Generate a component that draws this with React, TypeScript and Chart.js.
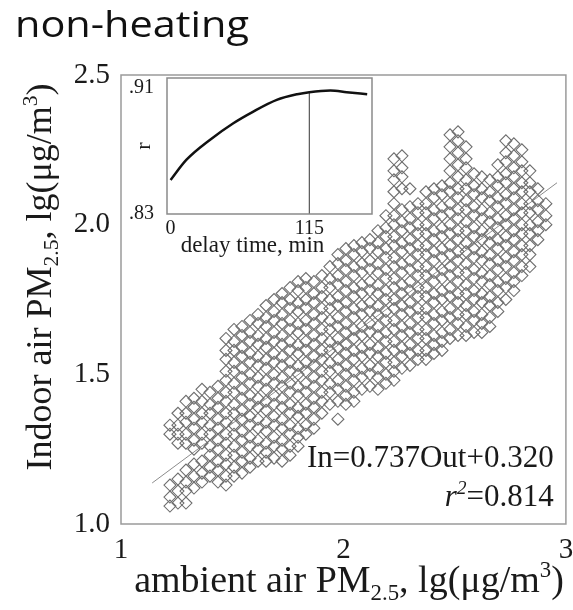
import React, { useEffect, useRef } from "react";
import { Chart, registerables } from "chart.js";

Chart.register(...registerables);

const SERIF = '"Liberation Serif", "Times New Roman", serif';

const titleText = "non-heating";
const xAxisTicks = [1, 2, 3];
const yAxisTicks = [1.0, 1.5, 2.0, 2.5];
const fitOut = [1.14, 2.96];
const fitIn = [1.137, 2.14];
const equationText = "In=0.737Out+0.320";
const r2Value = "=0.814";

// ambient (outdoor) lg values, one per column of the scatter cloud
const outdoorCols = [
  1.22, 1.256, 1.292, 1.328, 1.364, 1.4, 1.436, 1.472, 1.508, 1.544, 1.58, 1.616,
  1.652, 1.688, 1.724, 1.76, 1.796, 1.831, 1.867, 1.903, 1.939, 1.975, 2.011, 2.047,
  2.083, 2.119, 2.155, 2.191, 2.227, 2.263, 2.299, 2.335, 2.371, 2.407, 2.443, 2.479,
  2.515, 2.551, 2.587, 2.622, 2.658, 2.694, 2.73, 2.766, 2.802, 2.838, 2.874, 2.91,
];
// indoor lg values read for each column
const indoorCols = [
  [1.33, 1.3, 1.13, 1.09, 1.06],
  [1.37, 1.33, 1.3, 1.27, 1.15, 1.11, 1.07],
  [1.41, 1.37, 1.34, 1.3, 1.27, 1.18, 1.14, 1.11, 1.07],
  [1.42, 1.39, 1.35, 1.32, 1.28, 1.25, 1.2, 1.16, 1.12],
  [1.45, 1.41, 1.37, 1.34, 1.3, 1.27, 1.21, 1.17, 1.14],
  [1.44, 1.4, 1.37, 1.33, 1.3, 1.26, 1.23, 1.19, 1.16],
  [1.46, 1.42, 1.39, 1.35, 1.32, 1.28, 1.25, 1.21, 1.18, 1.14],
  [1.62, 1.58, 1.55, 1.51, 1.48, 1.44, 1.41, 1.37, 1.34, 1.3, 1.27, 1.23, 1.2, 1.16, 1.13],
  [1.65, 1.61, 1.58, 1.54, 1.51, 1.47, 1.44, 1.4, 1.37, 1.33, 1.3, 1.26, 1.23, 1.19, 1.16],
  [1.66, 1.63, 1.59, 1.56, 1.52, 1.49, 1.45, 1.42, 1.38, 1.35, 1.31, 1.28, 1.24, 1.21, 1.17],
  [1.68, 1.64, 1.61, 1.57, 1.54, 1.5, 1.47, 1.43, 1.4, 1.36, 1.33, 1.29, 1.26, 1.22, 1.19],
  [1.7, 1.67, 1.63, 1.6, 1.56, 1.53, 1.49, 1.46, 1.42, 1.39, 1.35, 1.32, 1.28, 1.25, 1.21],
  [1.73, 1.69, 1.66, 1.62, 1.59, 1.55, 1.52, 1.48, 1.45, 1.41, 1.38, 1.34, 1.31, 1.27, 1.24, 1.21],
  [1.75, 1.71, 1.68, 1.64, 1.61, 1.57, 1.54, 1.5, 1.47, 1.43, 1.4, 1.36, 1.33, 1.29, 1.26, 1.22],
  [1.77, 1.74, 1.7, 1.67, 1.63, 1.6, 1.56, 1.53, 1.49, 1.46, 1.42, 1.39, 1.35, 1.32, 1.28, 1.25, 1.21],
  [1.79, 1.75, 1.72, 1.68, 1.65, 1.61, 1.58, 1.54, 1.51, 1.47, 1.44, 1.4, 1.37, 1.33, 1.3, 1.26, 1.23],
  [1.81, 1.78, 1.74, 1.71, 1.67, 1.64, 1.6, 1.57, 1.53, 1.5, 1.46, 1.43, 1.39, 1.36, 1.32, 1.29, 1.26],
  [1.82, 1.79, 1.75, 1.72, 1.68, 1.65, 1.61, 1.58, 1.54, 1.51, 1.47, 1.44, 1.4, 1.37, 1.33, 1.3],
  [1.81, 1.77, 1.74, 1.7, 1.67, 1.63, 1.6, 1.56, 1.53, 1.49, 1.46, 1.42, 1.39, 1.35, 1.32],
  [1.83, 1.79, 1.76, 1.72, 1.69, 1.65, 1.62, 1.58, 1.55, 1.51, 1.48, 1.44, 1.41, 1.37],
  [1.86, 1.82, 1.79, 1.75, 1.72, 1.68, 1.65, 1.61, 1.58, 1.54, 1.51, 1.47, 1.44, 1.4],
  [1.9, 1.87, 1.83, 1.8, 1.76, 1.73, 1.69, 1.66, 1.62, 1.59, 1.55, 1.52, 1.48, 1.45, 1.41, 1.35],
  [1.92, 1.88, 1.85, 1.81, 1.78, 1.74, 1.71, 1.67, 1.64, 1.6, 1.57, 1.53, 1.5, 1.46, 1.43, 1.4],
  [1.93, 1.9, 1.86, 1.83, 1.79, 1.76, 1.72, 1.69, 1.65, 1.62, 1.58, 1.55, 1.51, 1.48, 1.44, 1.41],
  [1.94, 1.91, 1.87, 1.84, 1.8, 1.77, 1.73, 1.7, 1.66, 1.63, 1.59, 1.56, 1.52, 1.49, 1.45],
  [1.95, 1.92, 1.88, 1.85, 1.81, 1.78, 1.74, 1.71, 1.67, 1.64, 1.6, 1.57, 1.53, 1.5, 1.46],
  [1.98, 1.94, 1.91, 1.87, 1.84, 1.8, 1.77, 1.73, 1.7, 1.66, 1.63, 1.59, 1.56, 1.52, 1.49, 1.45],
  [2.03, 1.99, 1.96, 1.92, 1.89, 1.85, 1.82, 1.78, 1.75, 1.71, 1.68, 1.64, 1.61, 1.57, 1.54, 1.5, 1.47],
  [2.22, 2.18, 2.15, 2.11, 2.07, 2.03, 2.0, 1.96, 1.93, 1.89, 1.86, 1.82, 1.79, 1.75, 1.72, 1.68, 1.65, 1.61, 1.58, 1.54, 1.51, 1.48],
  [2.23, 2.19, 2.16, 2.12, 2.05, 2.01, 1.98, 1.94, 1.91, 1.87, 1.84, 1.8, 1.77, 1.73, 1.7, 1.66, 1.63, 1.59, 1.56, 1.52],
  [2.12, 2.06, 2.02, 1.99, 1.95, 1.92, 1.88, 1.85, 1.81, 1.78, 1.74, 1.71, 1.67, 1.64, 1.6, 1.57, 1.53],
  [2.07, 2.04, 2.0, 1.97, 1.93, 1.9, 1.86, 1.83, 1.79, 1.76, 1.72, 1.69, 1.65, 1.62, 1.58, 1.55],
  [2.11, 2.07, 2.04, 2.0, 1.97, 1.93, 1.9, 1.86, 1.83, 1.79, 1.76, 1.72, 1.69, 1.65, 1.62, 1.58, 1.55],
  [2.12, 2.09, 2.05, 2.02, 1.98, 1.95, 1.91, 1.88, 1.84, 1.81, 1.77, 1.74, 1.7, 1.67, 1.63, 1.6, 1.57],
  [2.13, 2.1, 2.06, 2.03, 1.99, 1.96, 1.92, 1.89, 1.85, 1.82, 1.78, 1.75, 1.71, 1.68, 1.64, 1.61, 1.58],
  [2.3, 2.26, 2.22, 2.18, 2.14, 2.11, 2.07, 2.04, 2.0, 1.97, 1.93, 1.9, 1.86, 1.83, 1.79, 1.76, 1.72, 1.69, 1.65, 1.62],
  [2.31, 2.28, 2.24, 2.2, 2.16, 2.12, 2.09, 2.05, 2.02, 1.98, 1.95, 1.91, 1.88, 1.84, 1.81, 1.77, 1.74, 1.7, 1.67, 1.63],
  [2.26, 2.22, 2.19, 2.15, 2.12, 2.08, 2.05, 2.01, 1.98, 1.94, 1.91, 1.87, 1.84, 1.8, 1.77, 1.73, 1.7, 1.66, 1.63],
  [2.17, 2.13, 2.1, 2.06, 2.03, 1.99, 1.96, 1.92, 1.89, 1.85, 1.82, 1.78, 1.75, 1.71, 1.68, 1.64],
  [2.16, 2.12, 2.09, 2.05, 2.02, 1.98, 1.95, 1.91, 1.88, 1.84, 1.81, 1.77, 1.74, 1.7, 1.67, 1.64],
  [2.15, 2.11, 2.08, 2.04, 2.01, 1.97, 1.94, 1.9, 1.87, 1.83, 1.8, 1.76, 1.73, 1.69, 1.66],
  [2.2, 2.16, 2.13, 2.09, 2.06, 2.02, 1.99, 1.95, 1.92, 1.88, 1.85, 1.81, 1.78, 1.74, 1.71],
  [2.28, 2.24, 2.21, 2.17, 2.14, 2.1, 2.07, 2.03, 2.0, 1.96, 1.93, 1.89, 1.86, 1.82, 1.79, 1.75],
  [2.27, 2.23, 2.19, 2.16, 2.12, 2.09, 2.05, 2.02, 1.98, 1.95, 1.91, 1.88, 1.84, 1.81, 1.78],
  [2.25, 2.21, 2.18, 2.14, 2.11, 2.07, 2.04, 2.0, 1.97, 1.93, 1.9, 1.86, 1.83],
  [2.18, 2.14, 2.11, 2.07, 2.04, 2.0, 1.97, 1.93, 1.9, 1.86],
  [2.12, 2.08, 2.05, 2.01, 1.98, 1.95],
  [2.07, 2.03, 2.0],
];

// inset: correlation r vs delay time
const delayTime = [0, 13, 32.5, 52, 68.6, 88, 105, 115, 132.5, 146, 163];
const corrR = [0.8516, 0.8643, 0.877, 0.8876, 0.895, 0.9024, 0.906, 0.9073, 0.9083, 0.9073, 0.906];
const bestDelay = 115;
const insetXTicks = [0, 115];
const insetYTicks = [0.83, 0.91];
const insetXTitle = "delay time, min";
const insetYTitle = "r";

type Seg = { t: string; s: number; dy?: number; it?: boolean };

function segFont(g: Seg) {
  return `${g.it ? "italic " : ""}${g.s}px ${SERIF}`;
}
function richWidth(ctx: CanvasRenderingContext2D, segs: Seg[]) {
  let w = 0;
  for (const g of segs) {
    ctx.font = segFont(g);
    w += ctx.measureText(g.t).width;
  }
  return w;
}
function drawRich(ctx: CanvasRenderingContext2D, segs: Seg[], x: number, y: number, align: "left" | "center" | "right") {
  const w = richWidth(ctx, segs);
  let cx = align === "center" ? x - w / 2 : align === "right" ? x - w : x;
  ctx.textAlign = "left";
  ctx.textBaseline = "alphabetic";
  for (const g of segs) {
    ctx.font = segFont(g);
    ctx.fillText(g.t, cx, y + (g.dy || 0));
    cx += ctx.measureText(g.t).width;
  }
}
function pmTitle(lead: string, F: number): Seg[] {
  return [
    { t: lead + " PM", s: F },
    { t: "2.5", s: F * 0.6, dy: F * 0.2 },
    { t: ", lg(\u03bcg/m", s: F },
    { t: "3", s: F * 0.6, dy: -F * 0.4 },
    { t: ")", s: F },
  ];
}

const noPad = (s: any) => {
  s.paddingTop = 0;
  s.paddingBottom = 0;
  s.paddingLeft = 0;
  s.paddingRight = 0;
};

const mainDecor = {
  id: "mainDecor",
  afterDraw(chart: any) {
    const ctx: CanvasRenderingContext2D = chart.ctx;
    const { left, top, right, bottom } = chart.chartArea;
    ctx.save();
    ctx.strokeStyle = "#9a9a9a";
    ctx.lineWidth = 1.5;
    ctx.strokeRect(left, top, right - left, bottom - top);

    ctx.fillStyle = "#111";
    // page title
    ctx.font = '36px "Open Sans", sans-serif';
    const tw = ctx.measureText(titleText).width;
    ctx.save();
    ctx.translate(15, 37);
    ctx.scale(234 / tw, 1);
    ctx.textAlign = "left";
    ctx.textBaseline = "alphabetic";
    ctx.fillText(titleText, 0, 0);
    ctx.restore();

    // axis titles
    ctx.fillStyle = "#1a1a1a";
    drawRich(ctx, pmTitle("ambient air", 38), 349, 592, "center");
    ctx.save();
    ctx.translate(51, 277);
    ctx.rotate(-Math.PI / 2);
    drawRich(ctx, pmTitle("Indoor air", 36), 0, 0, "center");
    ctx.restore();

    // regression equation
    const xs = chart.scales.x;
    const ys = chart.scales.y;
    const ex = xs.getPixelForValue(2.945);
    drawRich(ctx, [{ t: equationText, s: 31 }], ex, ys.getPixelForValue(1.19), "right");
    drawRich(
      ctx,
      [
        { t: "r", s: 31, it: true },
        { t: "2", s: 19, dy: -12, it: true },
        { t: r2Value, s: 31 },
      ],
      ex,
      ys.getPixelForValue(1.06),
      "right"
    );
    ctx.restore();
  },
};

const insetDecor = {
  id: "insetDecor",
  beforeDatasetsDraw(chart: any) {
    const ctx: CanvasRenderingContext2D = chart.ctx;
    const { left, top, right, bottom } = chart.chartArea;
    ctx.save();
    ctx.fillStyle = "#fff";
    ctx.fillRect(left, top, right - left, bottom - top);
    ctx.restore();
  },
  afterDraw(chart: any) {
    const ctx: CanvasRenderingContext2D = chart.ctx;
    const { left, top, right, bottom } = chart.chartArea;
    ctx.save();
    ctx.strokeStyle = "#8a8a8a";
    ctx.lineWidth = 1.5;
    ctx.strokeRect(left, top, right - left, bottom - top);
    ctx.fillStyle = "#1a1a1a";
    drawRich(ctx, [{ t: insetXTitle, s: 23 }], (left + right) / 2 - 17, bottom + 38, "center");
    ctx.save();
    ctx.translate(40, (top + bottom) / 2);
    ctx.rotate(-Math.PI / 2);
    drawRich(ctx, [{ t: insetYTitle, s: 22 }], 0, 0, "center");
    ctx.restore();
    ctx.restore();
  },
};

export default function App() {
  const mainRef = useRef<HTMLCanvasElement>(null);
  const insetRef = useRef<HTMLCanvasElement>(null);

  useEffect(() => {
    const cloud: { x: number; y: number }[] = [];
    outdoorCols.forEach((x, i) => indoorCols[i].forEach((y) => cloud.push({ x, y })));
    const fit = fitOut.map((x, i) => ({ x, y: fitIn[i] }));

    const tickFont = { family: SERIF, size: 29 };
    const main = new Chart(mainRef.current!, {
      type: "scatter",
      data: {
        datasets: [
          {
            data: cloud,
            pointStyle: "rectRot",
            pointRadius: 6,
            borderColor: "#6e6e6e",
            borderWidth: 1.1,
            backgroundColor: "rgba(255,255,255,0)",
          } as any,
          {
            type: "line",
            data: fit,
            borderColor: "#8c8c8c",
            borderWidth: 1,
            pointRadius: 0,
            fill: false,
          } as any,
        ],
      },
      options: {
        animation: false,
        responsive: false,
        maintainAspectRatio: false,
        events: [],
        layout: { padding: { top: 75, right: 7, left: 0, bottom: 0 } },
        plugins: { legend: { display: false }, tooltip: { enabled: false } },
        scales: {
          x: {
            type: "linear",
            min: 1,
            max: 3,
            afterBuildTicks: (s: any) => {
              s.ticks = xAxisTicks.map((v) => ({ value: v }));
            },
            afterFit: (s: any) => {
              s.height = 86;
              noPad(s);
            },
            grid: { display: false, drawTicks: false },
            border: { display: false },
            ticks: { font: tickFont, color: "#1a1a1a", padding: 9, callback: (v: any) => String(v) },
          },
          y: {
            type: "linear",
            min: 1,
            max: 2.5,
            afterBuildTicks: (s: any) => {
              s.ticks = yAxisTicks.map((v) => ({ value: v }));
            },
            afterFit: (s: any) => {
              s.width = 121;
              noPad(s);
            },
            grid: { display: false, drawTicks: false },
            border: { display: false },
            ticks: { font: tickFont, color: "#1a1a1a", padding: 11, callback: (v: any) => Number(v).toFixed(1) },
          },
        },
      },
      plugins: [mainDecor],
    });

    const curve = delayTime.map((t, i) => ({ x: t, y: corrR[i] }));
    const peak = corrR[delayTime.indexOf(bestDelay)];
    const insetFont = { family: SERIF, size: 20 };
    const inset = new Chart(insetRef.current!, {
      type: "line",
      data: {
        datasets: [
          {
            data: curve,
            borderColor: "#111",
            borderWidth: 2.5,
            pointRadius: 0,
            cubicInterpolationMode: "monotone",
            fill: false,
          } as any,
          {
            data: [
              { x: bestDelay, y: 0.83 },
              { x: bestDelay, y: peak },
            ],
            borderColor: "#333",
            borderWidth: 1,
            pointRadius: 0,
            fill: false,
          } as any,
        ],
      },
      options: {
        animation: false,
        responsive: false,
        maintainAspectRatio: false,
        events: [],
        layout: { padding: { top: 10, right: 8, left: 0, bottom: 0 } },
        plugins: { legend: { display: false }, tooltip: { enabled: false } },
        scales: {
          x: {
            type: "linear",
            min: -3,
            max: 167,
            afterBuildTicks: (s: any) => {
              s.ticks = insetXTicks.map((v) => ({ value: v }));
            },
            afterFit: (s: any) => {
              s.height = 49;
              noPad(s);
            },
            grid: { display: false, drawTicks: false },
            border: { display: false },
            ticks: { font: insetFont, color: "#1a1a1a", padding: 3, callback: (v: any) => String(v) },
          },
          y: {
            type: "linear",
            min: 0.83,
            max: 0.9163,
            afterBuildTicks: (s: any) => {
              s.ticks = insetYTicks.map((v) => ({ value: v }));
            },
            afterFit: (s: any) => {
              s.width = 57;
              noPad(s);
            },
            grid: { display: false, drawTicks: false },
            border: { display: false },
            ticks: {
              font: insetFont,
              color: "#1a1a1a",
              padding: 13,
              callback: (v: any) => "." + Math.round(Number(v) * 100),
            },
          },
        },
      },
      plugins: [insetDecor],
    });

    return () => {
      main.destroy();
      inset.destroy();
    };
  }, []);

  return (
    <div style={{ position: "fixed", left: 0, top: 0, width: 573, height: 610, background: "#fff" }}>
      <canvas ref={mainRef} width={573} height={610} style={{ position: "absolute", left: 0, top: 0, width: 573, height: 610 }} />
      <canvas ref={insetRef} width={270} height={195} style={{ position: "absolute", left: 110, top: 68, width: 270, height: 195 }} />
    </div>
  );
}
